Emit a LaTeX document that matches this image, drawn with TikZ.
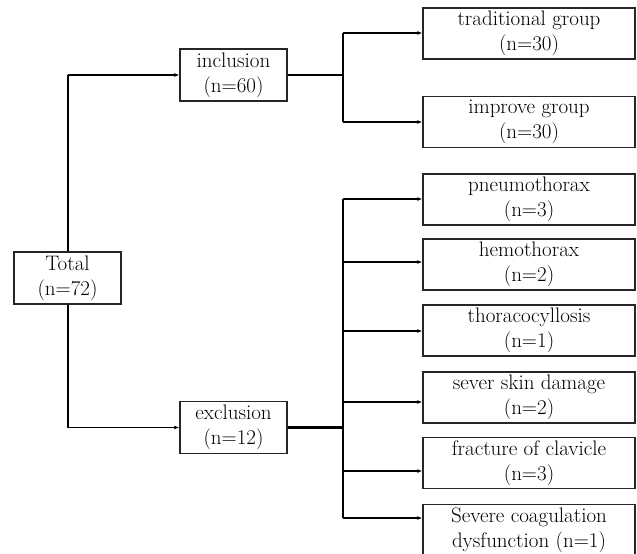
\documentclass[tikz,border=0pt]{standalone}
\usetikzlibrary{arrows.meta}
\begin{document}
\begin{tikzpicture}[x=1pt,y=-1pt,
  box/.style={draw=black!85, line width=1.3pt, align=center, inner sep=0pt,
    font=\fontsize{21}{25}\selectfont},
  rbox/.style={box, minimum width=212, minimum height=51},
  sbox/.style={box, minimum width=107, minimum height=52},
  arr/.style={line width=1.1pt, -{Latex[length=5pt,width=4pt]}},
  vline/.style={line width=2pt},
  tline/.style={line width=2.6pt}]
\useasboundingbox (0,0) rectangle (637,554);
\node[sbox] (total) at (67.5,278) {Total\\(n=72)};
\node[sbox] (incl) at (233.5,75) {inclusion\\(n=60)};
\node[sbox] (excl) at (233.5,427.5) {exclusion\\(n=12)};
\node[rbox] (trad) at (529,33.5) {traditional group\\(n=30)};
\node[rbox] (impr) at (529,122) {improve group\\(n=30)};
\node[rbox] (pneu) at (529,199.5) {pneumothorax\\(n=3)};
\node[rbox] (hemo) at (529,264.5) {hemothorax\\(n=2)};
\node[rbox] (thor) at (529,330.5) {thoracocyllosis\\(n=1)};
\node[rbox] (skin) at (529,397.5) {sever skin damage\\(n=2)};
\node[rbox] (frac) at (529,463) {fracture of clavicle\\(n=3)};
\node[rbox] (coag) at (529,530) {Severe coagulation\\dysfunction (n=1)};
% total to inclusion / exclusion
\coordinate (tu) at (total.north |- incl.west);
\coordinate (td) at (total.south |- excl.west);
\draw[vline] (total.north) -- (tu);
\draw[arr] (tu) -- (incl.west);
\draw[vline] (total.south) -- (td);
\draw[arr] (td) -- (excl.west);
% inclusion bus
\coordinate (ib) at (343,75);
\coordinate (i1) at (343,33);
\coordinate (i2) at (343,122);
\draw[tline] (incl.east) -- (ib);
\draw[vline] (i1) -- (i2);
\draw[arr] (i1) -- (i1 -| trad.west);
\draw[arr] (i2) -- (i2 -| impr.west);
% exclusion bus
\coordinate (eb) at (343,427.5);
\coordinate (e1) at (343,199);
\coordinate (e2) at (343,262);
\coordinate (e3) at (343,331);
\coordinate (e4) at (343,402);
\coordinate (e5) at (343,471);
\coordinate (e6) at (343,518);
\draw[tline] (excl.east) -- (eb);
\draw[vline] (e1) -- (e6);
\draw[arr] (e1) -- (e1 -| pneu.west);
\draw[arr] (e2) -- (e2 -| hemo.west);
\draw[arr] (e3) -- (e3 -| thor.west);
\draw[arr] (e4) -- (e4 -| skin.west);
\draw[arr] (e5) -- (e5 -| frac.west);
\draw[arr] (e6) -- (e6 -| coag.west);
\end{tikzpicture}
\end{document}
